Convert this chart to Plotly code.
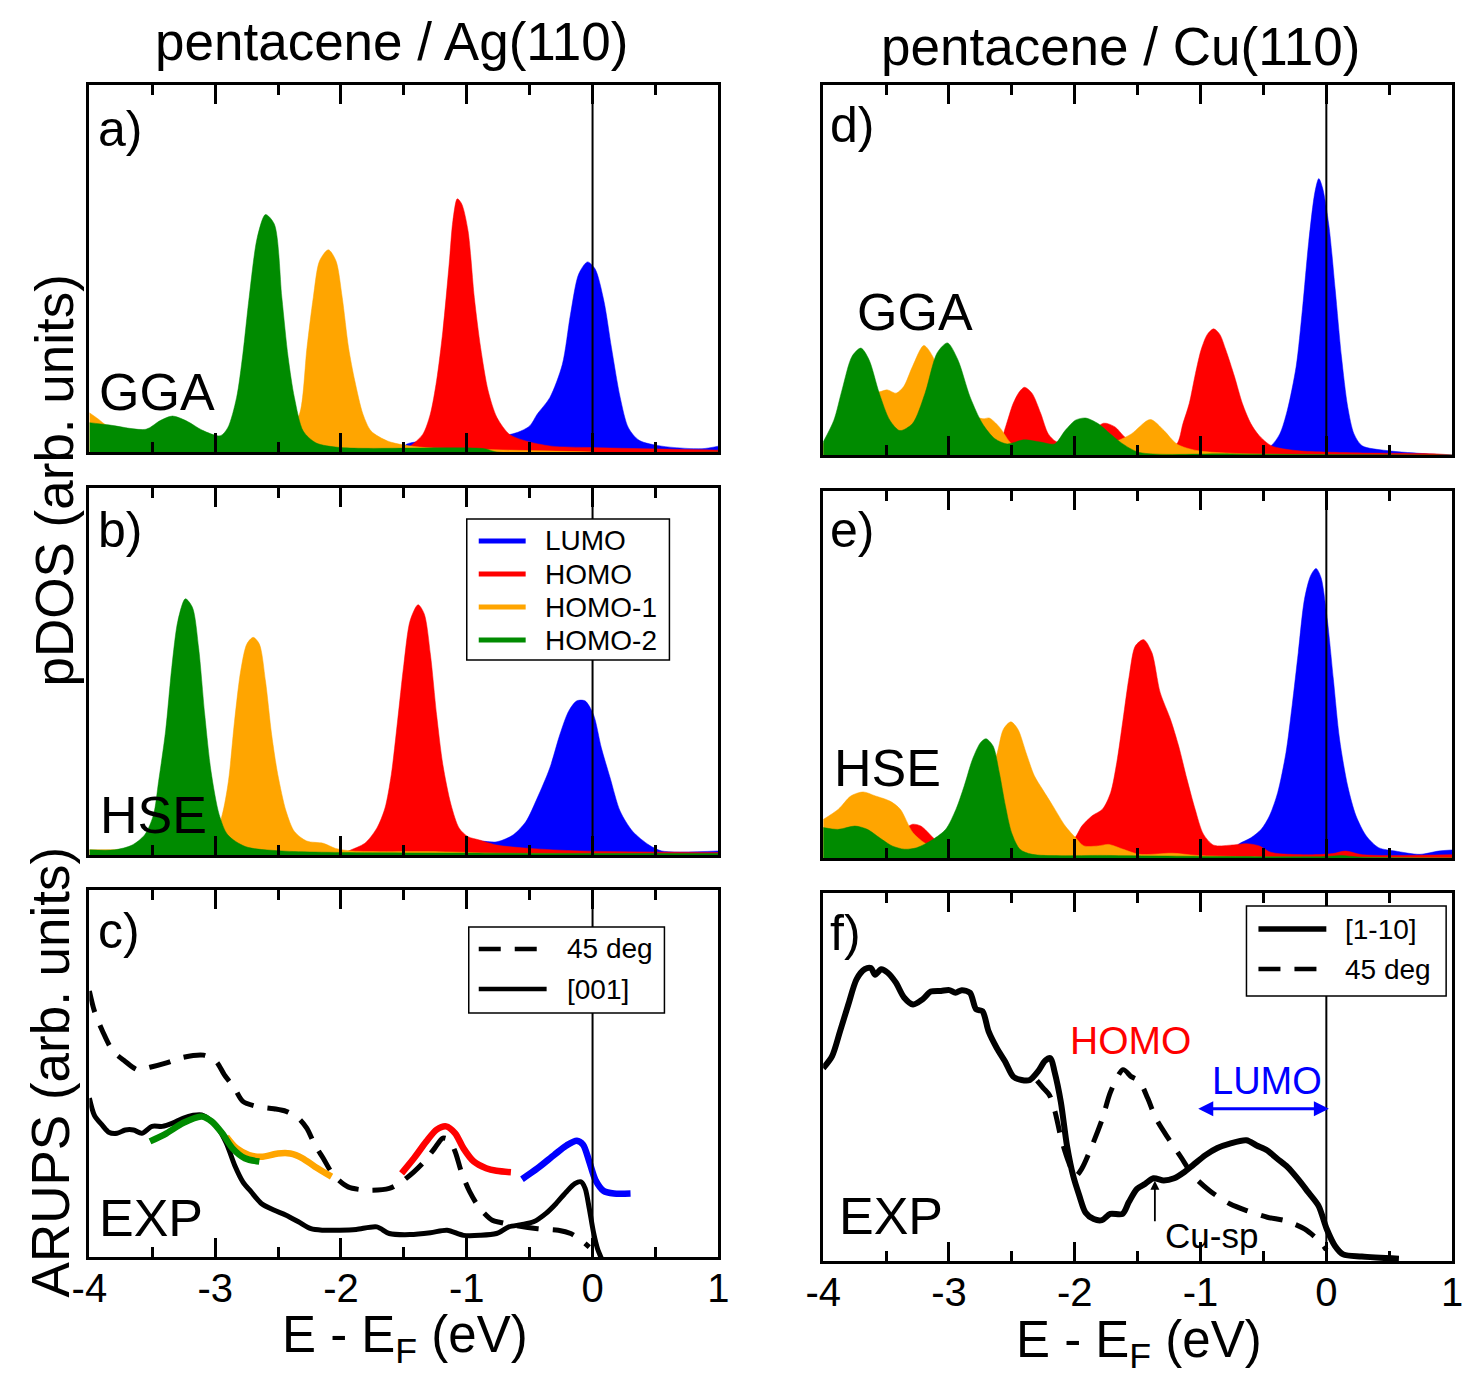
import plotly.graph_objects as go

# ---------------- DATA (energies in eV, intensities in arb. units) ----------------
# Panel a) pentacene/Ag(110) GGA
a_lumo_e = [-1.52, -1.48, -0.77, -0.6, -0.5, -0.44, -0.34, -0.24, -0.175, -0.11, -0.04, 0.02, 0.09, 0.15, 0.22, 0.285, 0.37, 0.55, 0.87, 1.0]
a_lumo = [0.0, 0.021, 0.041, 0.053, 0.071, 0.103, 0.148, 0.239, 0.376, 0.485, 0.518, 0.499, 0.412, 0.285, 0.148, 0.066, 0.032, 0.016, 0.009, 0.016]
a_homo_e = [-1.53, -1.45, -1.35, -1.29, -1.24, -1.19, -1.14, -1.11, -1.075, -1.04, -0.99, -0.94, -0.89, -0.83, -0.76, -0.66, -0.53, -0.33, 0.0, 1.0]
a_homo = [0.0, 0.016, 0.048, 0.103, 0.194, 0.33, 0.512, 0.631, 0.69, 0.676, 0.603, 0.421, 0.285, 0.167, 0.094, 0.048, 0.03, 0.016, 0.012, 0.005]
a_homo1_e = [-4.0, -3.93, -3.85, -3.5, -3.0, -2.6, -2.4, -2.33, -2.27, -2.22, -2.17, -2.1, -2.04, -1.99, -1.94, -1.89, -1.825, -1.76, -1.63, -1.5, -1.33, -1.0, 0.0]
a_homo1 = [0.107, 0.09, 0.07, 0.05, 0.04, 0.05, 0.07, 0.103, 0.285, 0.421, 0.521, 0.551, 0.521, 0.421, 0.285, 0.194, 0.103, 0.057, 0.03, 0.019, 0.012, 0.008, 0.0]
a_homo2_e = [-4.0, -3.85, -3.55, -3.44, -3.34, -3.23, -3.1, -2.96, -2.9, -2.83, -2.78, -2.73, -2.665, -2.6, -2.53, -2.47, -2.42, -2.37, -2.3, -2.2, -2.0, -0.86, -0.76, 1.0]
a_homo2 = [0.08, 0.074, 0.062, 0.085, 0.098, 0.085, 0.059, 0.044, 0.066, 0.148, 0.267, 0.421, 0.585, 0.647, 0.621, 0.421, 0.258, 0.148, 0.057, 0.025, 0.012, 0.009, 0.0, 0.0]

# Panel b) pentacene/Ag(110) HSE
b_lumo_e = [-1.0, -0.96, -0.76, -0.63, -0.53, -0.44, -0.34, -0.26, -0.19, -0.125, -0.06, 0.007, 0.07, 0.14, 0.22, 0.32, 0.45, 0.55, 1.0]
b_lumo = [0.0, 0.036, 0.036, 0.055, 0.091, 0.155, 0.237, 0.328, 0.392, 0.42, 0.42, 0.383, 0.292, 0.21, 0.119, 0.064, 0.027, 0.011, 0.011]
b_homo_e = [-2.0, -1.94, -1.81, -1.715, -1.65, -1.6, -1.55, -1.5, -1.45, -1.387, -1.338, -1.289, -1.24, -1.19, -1.125, -1.06, -0.99, -0.9, -0.76, -0.5, -0.1, 1.0]
b_homo = [0.0, 0.011, 0.032, 0.073, 0.128, 0.219, 0.365, 0.52, 0.639, 0.682, 0.657, 0.547, 0.383, 0.246, 0.137, 0.073, 0.05, 0.041, 0.027, 0.018, 0.011, 0.007]
b_homo1_e = [-4.0, -3.5, -3.0, -2.944, -2.895, -2.846, -2.797, -2.748, -2.698, -2.649, -2.6, -2.551, -2.502, -2.436, -2.37, -2.272, -2.141, -2.043, -1.911, -1.223, -0.764, 1.0]
b_homo1 = [0.014, 0.02, 0.06, 0.11, 0.2, 0.365, 0.502, 0.575, 0.593, 0.575, 0.474, 0.328, 0.219, 0.119, 0.064, 0.038, 0.032, 0.018, 0.011, 0.009, 0.005, 0.0]
b_homo2_e = [-4.0, -3.8, -3.66, -3.56, -3.49, -3.45, -3.394, -3.345, -3.296, -3.237, -3.181, -3.132, -3.083, -3.033, -2.968, -2.9, -2.76, -2.469, -0.764, 1.0]
b_homo2 = [0.014, 0.014, 0.027, 0.055, 0.11, 0.2, 0.338, 0.511, 0.639, 0.698, 0.675, 0.566, 0.383, 0.228, 0.11, 0.055, 0.023, 0.011, 0.005, 0.004]

# Panel d) pentacene/Cu(110) GGA
d_lumo_e = [-0.6, -0.44, -0.37, -0.31, -0.24, -0.19, -0.14, -0.09, -0.06, -0.03, 0.02, 0.07, 0.12, 0.17, 0.22, 0.285, 0.48, 0.81, 1.0]
d_lumo = [0.0, 0.025, 0.057, 0.121, 0.239, 0.394, 0.576, 0.712, 0.747, 0.722, 0.621, 0.449, 0.267, 0.13, 0.057, 0.025, 0.012, 0.003, 0.0]
d_homo_e = [-2.75, -2.6, -2.55, -2.49, -2.44, -2.4, -2.34, -2.27, -2.21, -2.14, -2.0, -1.88, -1.77, -1.68, -1.6, -1.49, -1.3, -1.19, -1.14, -1.09, -1.04, -0.995, -0.946, -0.896, -0.847, -0.8, -0.73, -0.667, -0.6, -0.535, -0.437, -0.24, 0.22, 0.875, 1.0]
d_homo = [0.0, 0.03, 0.076, 0.139, 0.171, 0.183, 0.167, 0.112, 0.057, 0.035, 0.04, 0.06, 0.086, 0.076, 0.048, 0.03, 0.025, 0.03, 0.085, 0.139, 0.221, 0.285, 0.326, 0.341, 0.326, 0.285, 0.212, 0.139, 0.085, 0.053, 0.025, 0.012, 0.006, 0.003, 0.0]
d_homo1_e = [-4.0, -3.9, -3.75, -3.62, -3.55, -3.49, -3.42, -3.36, -3.29, -3.2, -3.13, -3.06, -2.9, -2.73, -2.68, -2.6, -2.5, -2.4, -2.0, -1.75, -1.65, -1.55, -1.4, -1.29, -1.19, -1.03, -0.77, 0.0]
d_homo1 = [0.03, 0.08, 0.15, 0.17, 0.171, 0.176, 0.167, 0.185, 0.239, 0.296, 0.267, 0.2, 0.12, 0.098, 0.1, 0.076, 0.03, 0.02, 0.02, 0.03, 0.04, 0.057, 0.096, 0.066, 0.03, 0.012, 0.005, 0.0]
d_homo2_e = [-4.0, -3.915, -3.85, -3.77, -3.7, -3.636, -3.554, -3.47, -3.39, -3.29, -3.19, -3.094, -3.012, -2.93, -2.832, -2.734, -2.635, -2.537, -2.406, -2.274, -2.16, -2.077, -1.995, -1.913, -1.815, -1.717, -1.618, -1.487, -0.765, 1.0]
d_homo2 = [0.035, 0.094, 0.176, 0.267, 0.289, 0.258, 0.167, 0.094, 0.066, 0.085, 0.167, 0.276, 0.303, 0.258, 0.157, 0.085, 0.044, 0.03, 0.041, 0.035, 0.03, 0.066, 0.094, 0.1, 0.085, 0.057, 0.03, 0.007, 0.003, 0.0]

# Panel e) pentacene/Cu(110) HSE
e_lumo_e = [-0.8, -0.7, -0.6, -0.518, -0.452, -0.387, -0.321, -0.272, -0.223, -0.174, -0.125, -0.082, -0.043, 0.007, 0.056, 0.105, 0.17, 0.236, 0.318, 0.416, 0.548, 0.744, 0.892, 1.0]
e_lumo = [0.0, 0.037, 0.055, 0.078, 0.115, 0.178, 0.287, 0.415, 0.56, 0.705, 0.769, 0.789, 0.765, 0.651, 0.487, 0.324, 0.196, 0.115, 0.06, 0.028, 0.019, 0.01, 0.019, 0.022]
e_homo_e = [-3.6, -3.45, -3.35, -3.289, -3.223, -3.125, -3.06, -2.9, -2.3, -2.01, -1.944, -1.862, -1.78, -1.715, -1.666, -1.616, -1.567, -1.518, -1.452, -1.387, -1.321, -1.239, -1.174, -1.108, -1.043, -0.977, -0.895, -0.764, -0.633, -0.534, -0.436, -0.108, 0.05, 0.154, 0.285, 1.0]
e_homo = [0.03, 0.06, 0.08, 0.092, 0.087, 0.055, 0.033, 0.01, 0.01, 0.051, 0.087, 0.115, 0.133, 0.178, 0.26, 0.378, 0.496, 0.578, 0.595, 0.56, 0.451, 0.378, 0.305, 0.215, 0.133, 0.065, 0.035, 0.035, 0.039, 0.033, 0.015, 0.009, 0.012, 0.019, 0.009, 0.009]
e_homo1_e = [-4.0, -3.879, -3.78, -3.682, -3.584, -3.469, -3.387, -3.289, -3.19, -3.09, -2.95, -2.8, -2.7, -2.616, -2.567, -2.508, -2.452, -2.387, -2.321, -2.256, -2.174, -2.075, -1.993, -1.928, -1.813, -1.731, -1.616, -1.485, -1.223, -1.026, -0.5, 1.0]
e_homo1 = [0.105, 0.133, 0.169, 0.18, 0.169, 0.155, 0.133, 0.07, 0.04, 0.025, 0.04, 0.1, 0.2, 0.287, 0.351, 0.371, 0.351, 0.287, 0.224, 0.187, 0.142, 0.087, 0.055, 0.033, 0.033, 0.037, 0.024, 0.01, 0.013, 0.007, 0.003, 0.0]
e_homo2_e = [-4.0, -3.879, -3.748, -3.649, -3.551, -3.452, -3.354, -3.256, -3.125, -3.026, -2.944, -2.879, -2.813, -2.748, -2.705, -2.649, -2.6, -2.551, -2.502, -2.436, -2.338, -1.748, -0.764, 0.0, 0.12, 0.25, 1.0]
e_homo2 = [0.083, 0.078, 0.087, 0.078, 0.055, 0.033, 0.024, 0.028, 0.051, 0.078, 0.133, 0.196, 0.269, 0.315, 0.325, 0.305, 0.233, 0.142, 0.069, 0.024, 0.01, 0.007, 0.004, 0.004, 0.007, 0.003, 0.0]

# Panel c) ARUPS pentacene/Ag(110)
c_001_e = [-4.0, -3.96, -3.895, -3.846, -3.78, -3.715, -3.649, -3.584, -3.502, -3.42, -3.338, -3.256, -3.174, -3.108, -3.043, -2.977, -2.911, -2.846, -2.78, -2.715, -2.633, -2.534, -2.436, -2.338, -2.239, -2.141, -2.01, -1.879, -1.715, -1.616, -1.452, -1.289, -1.157, -1.026, -0.895, -0.764, -0.666, -0.567, -0.469, -0.37, -0.289, -0.207, -0.141, -0.092, -0.059, -0.026, 0.007, 0.039, 0.072]
c_001 = [0.433, 0.386, 0.358, 0.34, 0.337, 0.346, 0.346, 0.337, 0.356, 0.356, 0.365, 0.378, 0.386, 0.387, 0.374, 0.351, 0.31, 0.251, 0.205, 0.178, 0.146, 0.128, 0.114, 0.096, 0.077, 0.073, 0.073, 0.075, 0.082, 0.064, 0.061, 0.066, 0.073, 0.059, 0.059, 0.064, 0.082, 0.088, 0.096, 0.119, 0.146, 0.178, 0.2, 0.205, 0.187, 0.132, 0.068, 0.023, -0.005]
c_45_e = [-4.0, -3.96, -3.895, -3.813, -3.715, -3.616, -3.518, -3.387, -3.256, -3.092, -2.993, -2.928, -2.846, -2.78, -2.666, -2.534, -2.436, -2.338, -2.272, -2.207, -2.141, -2.059, -1.944, -1.78, -1.616, -1.518, -1.42, -1.338, -1.256, -1.19, -1.141, -1.092, -1.043, -0.977, -0.895, -0.797, -0.731, -0.6, -0.436, -0.272, -0.174, -0.092, -0.026]
c_45 = [0.725, 0.67, 0.615, 0.561, 0.533, 0.51, 0.517, 0.529, 0.544, 0.55, 0.533, 0.497, 0.46, 0.424, 0.41, 0.404, 0.397, 0.378, 0.351, 0.305, 0.269, 0.223, 0.191, 0.182, 0.187, 0.205, 0.232, 0.26, 0.296, 0.324, 0.319, 0.287, 0.232, 0.178, 0.132, 0.1, 0.094, 0.085, 0.077, 0.073, 0.064, 0.046, 0.027]
c_homo2_e = [-3.518, -3.387, -3.256, -3.108, -3.026, -2.944, -2.862, -2.764, -2.649]
c_homo2 = [0.315, 0.337, 0.365, 0.383, 0.369, 0.337, 0.296, 0.269, 0.26]
c_homo1_e = [-2.911, -2.829, -2.731, -2.633, -2.502, -2.403, -2.305, -2.207, -2.075]
c_homo1 = [0.328, 0.296, 0.278, 0.273, 0.282, 0.282, 0.269, 0.246, 0.219]
c_homo_e = [-1.518, -1.42, -1.321, -1.239, -1.164, -1.092, -1.026, -0.944, -0.846, -0.764, -0.649]
c_homo = [0.228, 0.269, 0.315, 0.347, 0.356, 0.337, 0.296, 0.26, 0.242, 0.235, 0.231]
c_lumo_e = [-0.561, -0.436, -0.305, -0.207, -0.125, -0.075, -0.026, 0.023, 0.089, 0.17, 0.302]
c_lumo = [0.212, 0.242, 0.278, 0.304, 0.317, 0.306, 0.26, 0.21, 0.18, 0.173, 0.173]

# Panel f) ARUPS pentacene/Cu(110)
f_110_e = [-4.0, -3.93, -3.866, -3.8, -3.734, -3.669, -3.62, -3.587, -3.538, -3.489, -3.423, -3.357, -3.285, -3.21, -3.144, -3.062, -2.997, -2.948, -2.898, -2.833, -2.784, -2.734, -2.685, -2.62, -2.554, -2.489, -2.423, -2.357, -2.292, -2.236, -2.193, -2.161, -2.111, -2.062, -2.013, -1.964, -1.915, -1.849, -1.784, -1.718, -1.62, -1.57, -1.505, -1.439, -1.374, -1.292, -1.21, -1.128, -1.062, -0.964, -0.866, -0.767, -0.636, -0.554, -0.472, -0.39, -0.308, -0.226, -0.144, -0.062, 0.003, 0.069, 0.134, 0.282, 0.577]
f_110 = [0.524, 0.556, 0.624, 0.697, 0.766, 0.793, 0.796, 0.778, 0.793, 0.784, 0.757, 0.716, 0.697, 0.711, 0.732, 0.734, 0.736, 0.729, 0.736, 0.729, 0.684, 0.679, 0.624, 0.579, 0.542, 0.501, 0.492, 0.492, 0.515, 0.544, 0.551, 0.515, 0.433, 0.314, 0.232, 0.178, 0.132, 0.114, 0.111, 0.128, 0.128, 0.16, 0.196, 0.21, 0.225, 0.219, 0.225, 0.242, 0.26, 0.287, 0.307, 0.319, 0.328, 0.314, 0.301, 0.278, 0.255, 0.223, 0.187, 0.15, 0.087, 0.041, 0.018, 0.012, 0.006]
f_45_e = [-2.3, -2.25, -2.2, -2.157, -2.108, -2.05, -1.995, -1.944, -1.862, -1.78, -1.715, -1.616, -1.551, -1.485, -1.42, -1.354, -1.256, -1.157, -1.059, -0.928, -0.764, -0.633, -0.469, -0.321, -0.174, -0.043, 0.0]
f_45 = [0.49, 0.47, 0.45, 0.406, 0.333, 0.27, 0.23, 0.251, 0.314, 0.387, 0.46, 0.52, 0.501, 0.488, 0.442, 0.387, 0.333, 0.283, 0.232, 0.191, 0.155, 0.137, 0.119, 0.109, 0.087, 0.05, 0.03]

# tick labels and legend names
tick_vals = [-4, -3, -2, -1, 0, 1]
tick_text = ["-4", "-3", "-2", "-1", "0", "1"]
orbital_names = ["LUMO", "HOMO", "HOMO-1", "HOMO-2"]

# ---------------- STYLE / LAYOUT ----------------
W, H = 1478, 1392
FONT = "Liberation Sans, Arial, Helvetica, sans-serif"
BLUE, RED, ORANGE, GREEN = "#0000ff", "#ff0000", "#ffa500", "#008b00"
ORB_COLORS = [BLUE, RED, ORANGE, GREEN]
DASH = "22px,14px"

# horizontal placement correction measured from the rendered page
XS, XO = 0.982, 15.5


def px_x(p):
    return ((p - XO) / XS) / W


def px_y(p):
    return 1 - p / H


# panel boxes in target pixels: (left, top, right, bottom)
boxes = {
    1: (87, 85, 717, 452),     # a
    2: (87, 488, 717, 855),    # b
    3: (87, 890, 717, 1257),   # c
    4: (822, 85, 1452, 455),   # d
    5: (822, 491, 1452, 858),  # e
    6: (822, 893, 1452, 1261), # f
}

fig = go.Figure()


def ax(i):
    return ("x" if i == 1 else f"x{i}"), ("y" if i == 1 else f"y{i}")


def add_fill(i, e, v, color, name):
    xa, ya = ax(i)
    fig.add_trace(go.Scatter(x=e, y=v, xaxis=xa, yaxis=ya, mode="lines", name=name,
                             line=dict(color=color, width=0.5, shape="spline", smoothing=0.8),
                             fill="tozeroy", fillcolor=color, showlegend=False, hoverinfo="skip"))


def add_line(i, e, v, color, width, dash="solid", name=None):
    xa, ya = ax(i)
    fig.add_trace(go.Scatter(x=e, y=v, xaxis=xa, yaxis=ya, mode="lines", name=name,
                             line=dict(color=color, width=width, dash=dash, shape="spline", smoothing=0.8),
                             showlegend=False, hoverinfo="skip"))


# pDOS panels (drawn LUMO, HOMO, HOMO-1, HOMO-2 from back to front)
for i, sets in [
    (1, [(a_lumo_e, a_lumo), (a_homo_e, a_homo), (a_homo1_e, a_homo1), (a_homo2_e, a_homo2)]),
    (2, [(b_lumo_e, b_lumo), (b_homo_e, b_homo), (b_homo1_e, b_homo1), (b_homo2_e, b_homo2)]),
    (4, [(d_lumo_e, d_lumo), (d_homo_e, d_homo), (d_homo1_e, d_homo1), (d_homo2_e, d_homo2)]),
    (5, [(e_lumo_e, e_lumo), (e_homo_e, e_homo), (e_homo1_e, e_homo1), (e_homo2_e, e_homo2)]),
]:
    for (e, v), c, nm in zip(sets, ORB_COLORS, orbital_names):
        add_fill(i, e, v, c, nm)

# panel c
add_line(3, c_45_e, c_45, "black", 5, DASH, "45 deg")
add_line(3, c_001_e, c_001, "black", 5, "solid", "[001]")
add_line(3, c_homo1_e, c_homo1, ORANGE, 6.5, name="HOMO-1")
add_line(3, c_homo2_e, c_homo2, GREEN, 6.5, name="HOMO-2")
add_line(3, c_homo_e, c_homo, RED, 6.5, name="HOMO")
add_line(3, c_lumo_e, c_lumo, BLUE, 6.5, name="LUMO")

# panel f
add_line(6, f_110_e, f_110, "black", 6, "solid", "[1-10]")
add_line(6, f_45_e, f_45, "black", 5, DASH, "45 deg")

layout = dict(width=W, height=H, margin=dict(l=0, r=0, t=0, b=0), autosize=False,
              paper_bgcolor="white", plot_bgcolor="white", showlegend=False,
              font=dict(family=FONT, color="black"))

for i, (l, t, r, b) in boxes.items():
    xk = "xaxis" if i == 1 else f"xaxis{i}"
    yk = "yaxis" if i == 1 else f"yaxis{i}"
    xa, ya = ax(i)
    layout[xk] = dict(domain=[px_x(l), px_x(r)], anchor=ya, range=[-4, 1],
                      tickvals=tick_vals, ticktext=tick_text,
                      ticks="inside", ticklen=19, tickwidth=2.5, tickcolor="black",
                      minor=dict(dtick=0.5, tick0=0, ticks="inside", ticklen=10, tickwidth=2.5, tickcolor="black"),
                      showline=True, linewidth=3, linecolor="black", mirror="ticks",
                      showgrid=False, zeroline=False, ticklabelstandoff=-6,
                      showticklabels=i in (3, 6), tickfont=dict(size=40, family=FONT))
    layout[yk] = dict(domain=[px_y(b), px_y(t)], anchor=xa, range=[0, 1],
                      showline=True, linewidth=3, linecolor="black", mirror=True,
                      showgrid=False, zeroline=False, ticks="", showticklabels=False)

fig.update_layout(**layout)

# zero-energy lines
for i in boxes:
    xa, ya = ax(i)
    fig.add_shape(type="line", xref=xa, yref=f"{ya} domain", x0=0, x1=0, y0=0, y1=1,
                  line=dict(color="black", width=2), layer="above")


def text(px, py, s, size, anchor="center", color="black", angle=0):
    fig.add_annotation(x=px_x(px), y=px_y(py), xref="paper", yref="paper", text=s,
                       showarrow=False, xanchor=anchor, yanchor="middle", textangle=angle,
                       font=dict(size=size, color=color, family=FONT))


def legend_box(l, t, r, b, entries):
    fig.add_shape(type="rect", xref="paper", yref="paper", x0=px_x(l), x1=px_x(r), y0=px_y(b), y1=px_y(t),
                  fillcolor="white", line=dict(color="black", width=1.5), layer="above")
    for yy, x0, x1, tx, col, dash, lab, lw in entries:
        fig.add_shape(type="line", xref="paper", yref="paper", x0=px_x(x0), x1=px_x(x1),
                      y0=px_y(yy), y1=px_y(yy), line=dict(color=col, width=lw, dash=dash), layer="above")
        text(tx, yy, lab, 28, anchor="left")


legend_box(465, 519, 668, 660,
           [(541 + 33 * k, 477, 524, 541, c, "solid", nm, 5) for k, (c, nm) in enumerate(zip(ORB_COLORS, orbital_names))])
legend_box(467, 927, 663, 1013,
           [(949, 477, 545, 563, "black", DASH, "45 deg", 4.5), (989, 477, 545, 563, "black", "solid", "[001]", 4.5)])
legend_box(1246, 906, 1446, 996,
           [(929, 1258, 1326, 1343, "black", "solid", "[1-10]", 5.5), (969, 1258, 1326, 1343, "black", DASH, "45 deg", 4.5)])

text(390, 42, "pentacene / Ag(110)", 53)
text(1120, 47, "pentacene / Cu(110)", 53)
for px, py, s in [(94, 129, "a)"), (94, 530, "b)"), (94, 931, "c)"),
                  (827, 125, "d)"), (827, 530, "e)"), (827, 933, "f)")]:
    text(px, py, s, 50, anchor="left")
for px, py, s in [(95, 392, "GGA"), (854, 312, "GGA"), (96, 815, "HSE"), (831, 768, "HSE"),
                  (95, 1218, "EXP"), (836, 1216, "EXP")]:
    text(px, py, s, 52, anchor="left")
text(52, 480, "pDOS (arb. units)", 53, angle=-90)
text(48, 1072, "ARUPS (arb. units)", 53, angle=-90)
text(403, 1338, "E - E<sub>F</sub> (eV)", 51)
text(1138, 1343, "E - E<sub>F</sub> (eV)", 51)

# annotations in panel f
fig.add_annotation(x=-1.553, y=0.6, xref="x6", yref="y6", text="HOMO", showarrow=False,
                   font=dict(size=39, color=RED, family=FONT))
fig.add_annotation(x=-0.47, y=0.49, xref="x6", yref="y6", text="LUMO", showarrow=False,
                   font=dict(size=38, color=BLUE, family=FONT))
fig.add_annotation(x=0.02, y=0.414, xref="x6", yref="y6", ax=-1.03, ay=0.414, axref="x6", ayref="y6",
                   text="", showarrow=True, arrowhead=2, arrowside="end+start", arrowsize=1,
                   arrowwidth=3, arrowcolor=BLUE)
fig.add_annotation(x=-1.363, y=0.218, xref="x6", yref="y6", ax=-1.363, ay=0.104, axref="x6", ayref="y6",
                   text="", showarrow=True, arrowhead=2, arrowsize=1, arrowwidth=1.8, arrowcolor="black")
fig.add_annotation(x=-0.91, y=0.068, xref="x6", yref="y6", text="Cu-sp", showarrow=False,
                   font=dict(size=35, color="black", family=FONT))

fig.write_html("out.html", config={"displayModeBar": False},
               post_script="document.body.style.margin='0px';document.body.style.overflow='hidden';")
